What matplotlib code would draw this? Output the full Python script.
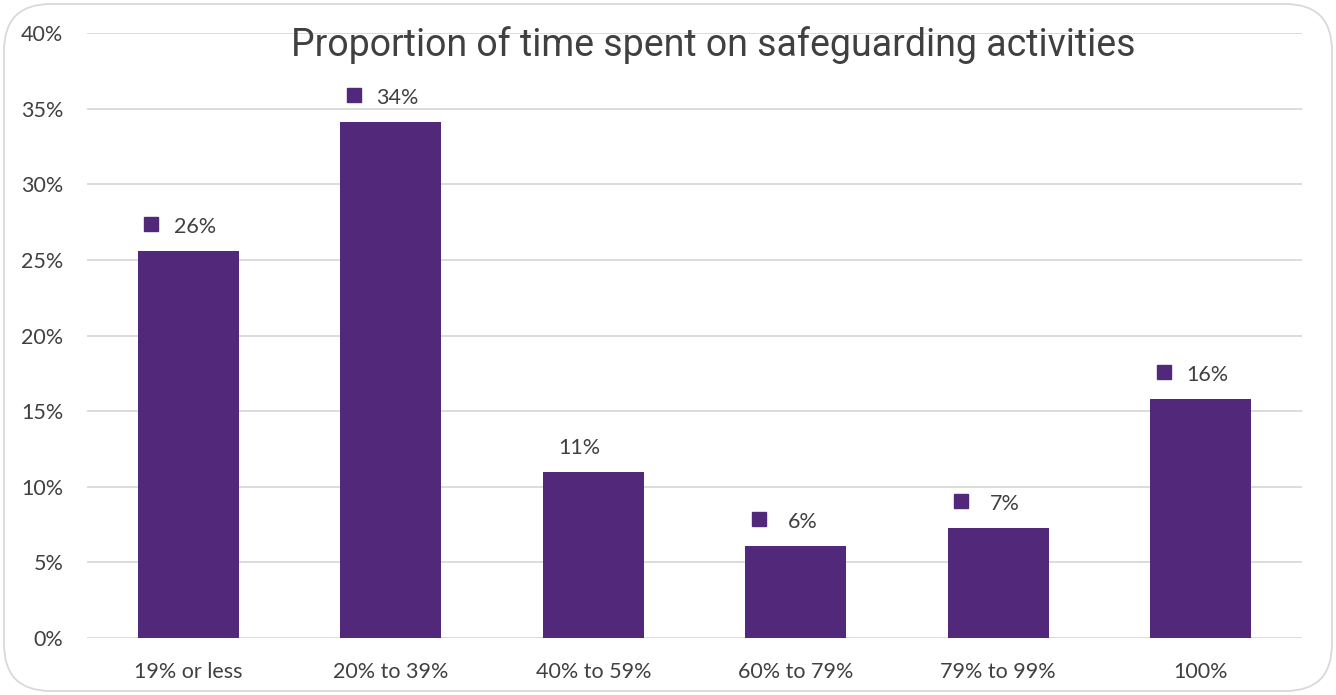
import matplotlib
matplotlib.use("Agg")
import matplotlib.pyplot as plt
from matplotlib.patches import FancyBboxPatch
from matplotlib.transforms import offset_copy
from matplotlib.ticker import FuncFormatter, MultipleLocator

categories = ["19% or less", "20% to 39%", "40% to 59%", "60% to 79%", "79% to 99%", "100%"]
values = [25.6, 34.1, 11.0, 6.1, 7.3, 15.8]
labels = ["26%", "34%", "11%", "6%", "7%", "16%"]
show_marker = [True, True, False, True, True, True]
title = "Proportion of time spent on safeguarding activities"

bar_color = "#52287A"
text_color = "#404040"
grid_color = "#D9D9D9"

fig = plt.figure(figsize=(13.36, 6.95), dpi=100)
ax = fig.add_axes([87/1336, 57/695, (1302-87)/1336, (638-33)/695])

x = list(range(len(categories)))
ax.bar(x, values, width=0.5, color=bar_color, zorder=3)
ax.set_xlim(-0.5, len(categories) - 0.5)
ax.set_ylim(0, 40)
ax.yaxis.set_major_locator(MultipleLocator(5))
ax.yaxis.set_major_formatter(FuncFormatter(lambda v, p: f"{int(v)}%"))
ax.set_xticks(x)
ax.set_xticklabels(categories)
for s in ax.spines.values():
    s.set_visible(False)
ax.grid(axis="y", color=grid_color, linewidth=1.3, zorder=0)
ax.tick_params(axis="both", length=0, labelsize=15.5, labelcolor=text_color)
ax.tick_params(axis="x", pad=17)
ax.tick_params(axis="y", pad=17)
for lab in ax.get_xticklabels() + ax.get_yticklabels():
    lab.set_fontfamily("Lato")

for xi, v, lab, m in zip(x, values, labels, show_marker):
    ax.annotate(lab, xy=(xi, v), xytext=(5 if m else -10, 13), textcoords="offset points",
                ha="center", va="baseline", fontsize=15.5, color=text_color, family="Lato")
    if m:
        tr = offset_copy(ax.transData, fig=fig, x=-37, y=27, units="dots")
        ax.plot([xi], [v], marker="s", markersize=10, color=bar_color, transform=tr,
                linestyle="none", clip_on=False, zorder=4)

fig.text(713/1336, 1 - 45/695, title, ha="center", va="center", fontsize=27,
         color=text_color, family="Roboto")

border = FancyBboxPatch((4/1336, 4/695), 1 - 8/1336, 1 - 8/695,
                        boxstyle="round,pad=0,rounding_size=0.035",
                        transform=fig.transFigure, facecolor="none",
                        edgecolor="#D9D9D9", linewidth=1.3, mutation_aspect=1336/695)
fig.patches.append(border)

fig.savefig("out.png", dpi=100)
